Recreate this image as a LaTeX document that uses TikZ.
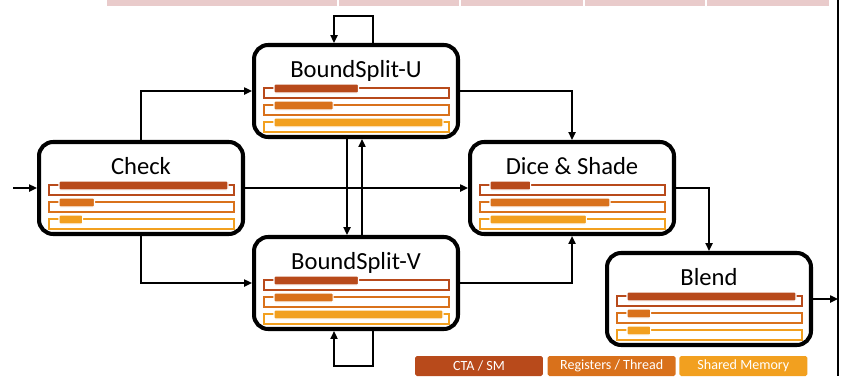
\documentclass[tikz,border=0pt]{standalone}
\usepackage{fontspec}
\setmainfont{Carlito}
\usepackage{tikz}
\usetikzlibrary{arrows.meta, positioning, calc}
\definecolor{ctacol}{HTML}{B84A1B}
\definecolor{regcol}{HTML}{D9711B}
\definecolor{smemcol}{HTML}{F2A01F}
\definecolor{stripcol}{HTML}{E9CBCB}
\tikzset{
    kernel/.style={
        rectangle,
        rounded corners=8pt,
        draw=black,
        fill=white,
        line width=2.3pt,
        minimum width=4.08cm,
        minimum height=1.84cm,
        inner sep=0pt
    },
    kname/.style={
        anchor=base,
        inner sep=0pt,
        font=\fontsize{14}{16}\selectfont
    },
    slot/.style={
        draw=#1,
        line width=0.7pt
    },
    usebar/.style={
        fill=#1,
        draw=white,
        line width=0.6pt,
        rounded corners=0.6pt
    },
    legend/.style={
        rectangle,
        rounded corners=1pt,
        fill=#1,
        text=white,
        minimum width=2.56cm,
        minimum height=0.4cm,
        inner sep=0pt,
        font=\fontsize{8}{9}\selectfont
    },
    link/.style={
        draw,
        -{Triangle[length=4.5pt,width=4pt]},
        line width=1.1pt
    }
}
% three resource rows under a kernel name: node, CTA, registers, shared memory
\newcommand{\usagebars}[4]{
    \begin{scope}[shift={(#1.center)}]
        \foreach \f/\c [count=\row from 0] in {#2/ctacol, #3/regcol, #4/smemcol} {
            \draw [slot=\c] (-92,{-3+17*\row}) rectangle (93,{7+17*\row});
            \draw [usebar=\c] (-82,{-7+17*\row}) rectangle ({-82+169*\f},{2+17*\row});
        }
    \end{scope}
}

\begin{document}
\begin{tikzpicture}[x=0.02cm, y=-0.02cm]
    \useasboundingbox (0,0) rectangle (848,376);

    % strip of the figure above
    \foreach \a/\b in {107/337, 339/459, 461/583, 585/705, 707/829}
        \fill [stripcol] (\a,0) rectangle (\b,6);

    % Kernels
    \node (check) [kernel] at (141,188) {};
    \node [kname] at ($(check.center)+(0,-13.5)$) {Check};
    \usagebars{check}{1}{0.21}{0.14}

    \node (bsu) [kernel] at (356,91) {};
    \node [kname] at ($(bsu.center)+(0,-13.5)$) {BoundSplit-U};
    \usagebars{bsu}{0.5}{0.35}{1}

    \node (bsv) [kernel] at (356,283) {};
    \node [kname] at ($(bsv.center)+(0,-13.5)$) {BoundSplit-V};
    \usagebars{bsv}{0.5}{0.35}{1}

    \node (dice) [kernel] at (572,188) {};
    \node [kname] at ($(dice.center)+(0,-13.5)$) {Dice \& Shade};
    \usagebars{dice}{0.24}{0.71}{0.57}

    \node (blend) [kernel] at (709,299) {};
    \node [kname] at ($(blend.center)+(0,-13.5)$) {Blend};
    \usagebars{blend}{1}{0.14}{0.14}

    % Legend
    \node (lcta) [legend=ctacol] at (479,366) {CTA / SM};
    \node (lreg) [legend=regcol, right=0.08cm of lcta] {Registers / Thread};
    \node (lsmem) [legend=smemcol, right=0.06cm of lreg] {Shared Memory};

    % Connections
    \coordinate (in) at (13,188);
    \coordinate (railtop) at (838,0);
    \coordinate (railbot) at (838,376);
    \draw [line width=1.1pt] (railtop) -- (railbot);

    \draw [link] (in) -- (check.west);
    \draw [link] (check.north) |- (bsu.west);
    \draw [link] (check.south) |- (bsv.west);
    \draw [link] (check.east) -- (dice.west);
    \draw [link] (bsu.east) -| (dice.north);
    \draw [link] (bsv.east) -| (dice.south);
    \draw [link] ($(bsu.south)+(-9,0)$) -- ($(bsv.north)+(-9,0)$);
    \draw [link] ($(bsv.north)+(6,0)$) -- ($(bsu.south)+(6,0)$);
    \draw [link] ($(bsu.north)+(17,0)$) -- ++(0,-27) -| ($(bsu.north)+(-22,0)$);
    \draw [link] ($(bsv.south)+(17,0)$) -- ++(0,35) -| ($(bsv.south)+(-22,0)$);
    \draw [link] (dice.east) -| (blend.north);
    \draw [link] (blend.east) -- (blend.east -| railtop);

\end{tikzpicture}
\end{document}
